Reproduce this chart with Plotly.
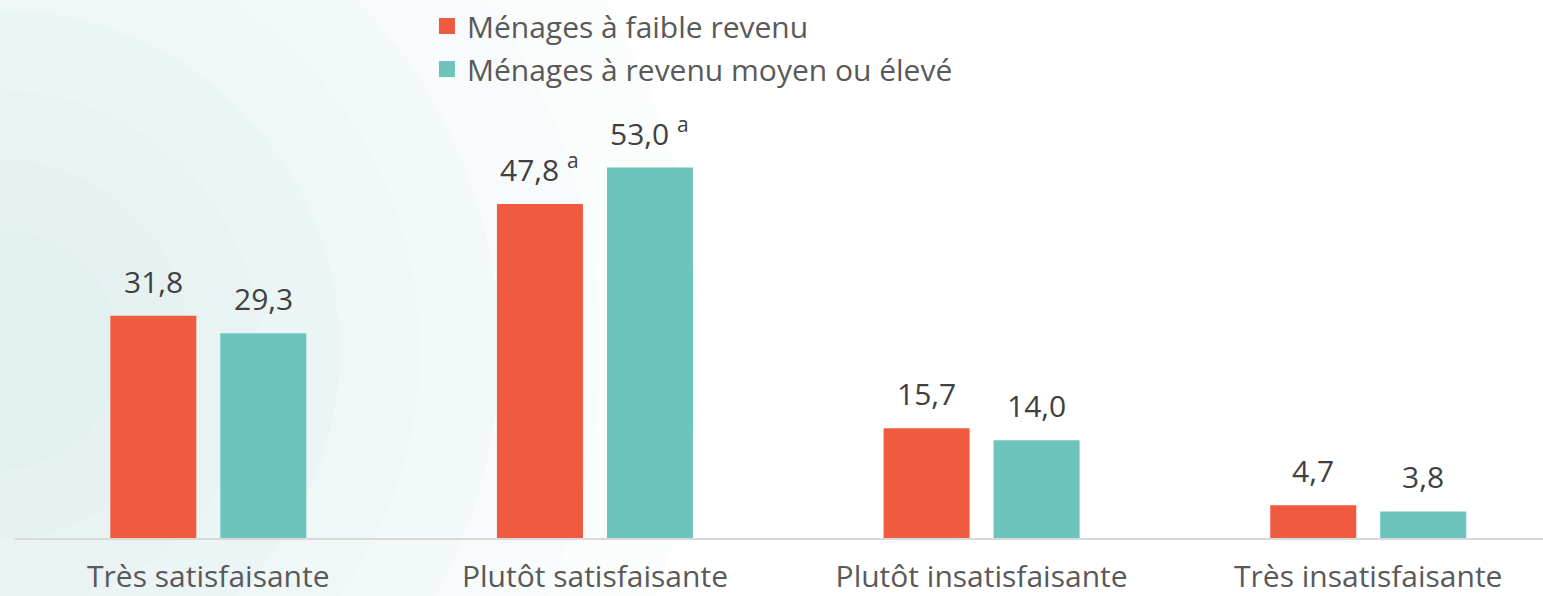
import plotly.graph_objects as go

categories = ["Très satisfaisante", "Plutôt satisfaisante", "Plutôt insatisfaisante", "Très insatisfaisante"]
low_income = [31.8, 47.8, 15.7, 4.7]
mid_high_income = [29.3, 53.0, 14.0, 3.8]
low_notes = ["", "a", "", ""]
mid_notes = ["", "a", "", ""]
series_names = ["Ménages à faible revenu", "Ménages à revenu moyen ou élevé"]
colors = ["#F05B40", "#6DC4BC"]

BARGAP = 0.431
BARGROUPGAP = 0.218

def fmt(v, note):
    s = f"{v:.1f}".replace(".", ",")
    if note:
        s += f" <sup>{note}</sup>"
    return s

fig = go.Figure()
series = [
    (series_names[0], low_income, low_notes, colors[0], "g1"),
    (series_names[1], mid_high_income, mid_notes, colors[1], "g2"),
]
for name, vals, notes, col, grp in series:
    fig.add_trace(go.Bar(
        x=categories, y=vals, name=name, legendgroup=grp, showlegend=False,
        marker=dict(color=col, line=dict(width=0)),
        hoverinfo="x+y",
    ))
# legend entries with larger square swatches
for name, vals, notes, col, grp in series:
    fig.add_trace(go.Scatter(
        x=[None], y=[None], mode="markers", name=name, legendgroup=grp,
        marker=dict(symbol="square", size=16, color=col, line=dict(width=0)),
    ))

# value labels placed above each bar (category index +/- half slot)
slot = (1 - BARGAP) / 2
annotations = []
for k, (name, vals, notes, col, grp) in enumerate(series):
    off = (k - 0.5) * slot
    for i, (v, n) in enumerate(zip(vals, notes)):
        annotations.append(dict(
            x=i + off, y=v, xref="x", yref="y", text=fmt(v, n),
            showarrow=False, yanchor="bottom", xanchor="center", yshift=12,
            font=dict(size=30, color="#404040", family="Open Sans"),
        ))

# faint concentric background circles on the left
shapes = []
for r in [700, 600, 500, 420, 340, 260, 190, 120]:
    shapes.append(dict(
        type="circle", xref="paper", yref="paper", xsizemode="pixel", ysizemode="pixel",
        xanchor=-0.01, yanchor=0.45, x0=-r, x1=r, y0=-r, y1=r,
        fillcolor="rgba(200,225,230,0.07)", line=dict(width=0), layer="below",
    ))

fig.update_layout(
    width=1543, height=596,
    margin=dict(l=15, r=0, t=120, b=58),
    paper_bgcolor="white", plot_bgcolor="rgba(0,0,0,0)",
    barmode="group", bargap=BARGAP, bargroupgap=BARGROUPGAP,
    font=dict(family="Open Sans", color="#595959"),
    shapes=shapes, annotations=annotations,
    legend=dict(
        orientation="v", x=0.2696, y=1.0, xanchor="left", yanchor="top",
        yref="container",
        font=dict(size=30, color="#595959"), itemsizing="trace",
        bgcolor="rgba(0,0,0,0)", traceorder="grouped", tracegroupgap=1,
    ),
    showlegend=True,
)
fig.update_xaxes(
    range=[-0.5, 3.452], showline=True, linecolor="#D9D9D9", linewidth=2,
    ticks="", tickfont=dict(size=30, color="#595959"), showgrid=False,
    ticklabelstandoff=11, automargin=False,
)
fig.update_yaxes(range=[0, 59.8], visible=False, showgrid=False, automargin=False)

fig.write_html("out.html", config={"displayModeBar": False},
               post_script="document.body.style.margin='0';")
